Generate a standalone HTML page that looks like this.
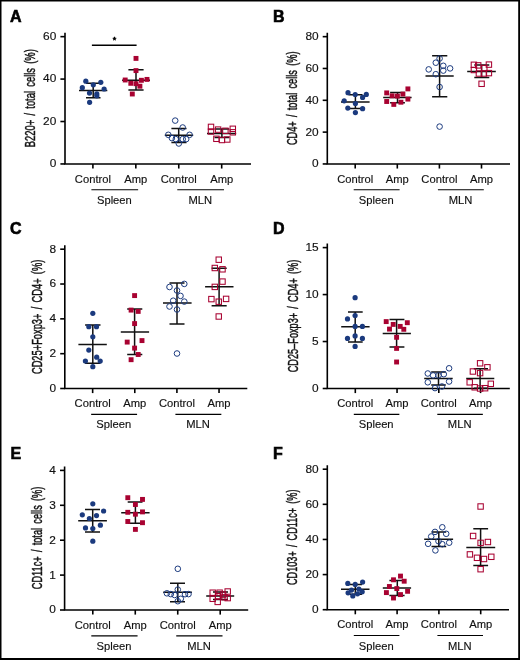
<!DOCTYPE html>
<html><head><meta charset="utf-8"><style>
html,body{margin:0;padding:0;background:#fff;}
body{width:520px;height:660px;overflow:hidden;position:relative;}
svg{position:absolute;left:0;top:0;will-change:transform;}
text{font-family:"Liberation Sans",sans-serif;fill:#111;}
.pl{font-weight:bold;font-size:16px;fill:#000;stroke:#000;stroke-width:0.6px;}
.tk{font-size:10.8px;text-anchor:end;stroke:#111;stroke-width:0.15px;}
.ct{font-size:11.2px;text-anchor:middle;stroke:#111;stroke-width:0.15px;}
.yl{font-size:13.9px;word-spacing:2.5px;stroke:#111;stroke-width:0.45px;text-anchor:middle;}
.st{font-size:9px;text-anchor:middle;stroke:#000;stroke-width:0.5px;fill:#000;}
.ax{stroke:#000;stroke-width:1.6;fill:none;}
.ul{stroke:#000;stroke-width:1.2;fill:none;}
.eb{stroke:#111;stroke-width:1.5;fill:none;}
</style></head><body>
<svg width="520" height="660" viewBox="0 0 520 660">
<path d="M0 0H520V660H0Z M1.5 1.5V657.9H518.2V1.5Z" fill="#000" fill-rule="evenodd"/>
<text x="10" y="21.8" class="pl">A</text>
<path d="M65 32.65V163.95H251" class="ax"/>
<path d="M60.4 163.95H65" class="ax"/>
<text transform="translate(56.3 167.35) scale(1.1 1.02)" class="tk">0</text>
<path d="M60.4 121.52H65" class="ax"/>
<text transform="translate(56.3 124.92) scale(1.1 1.02)" class="tk">20</text>
<path d="M60.4 79.08H65" class="ax"/>
<text transform="translate(56.3 82.48) scale(1.1 1.02)" class="tk">40</text>
<path d="M60.4 36.65H65" class="ax"/>
<text transform="translate(56.3 40.05) scale(1.1 1.02)" class="tk">60</text>
<path d="M92.9 163.95V168.55" class="ax"/>
<text transform="translate(92.9 182.5) scale(1 1.05)" class="ct">Control</text>
<path d="M135.83 163.95V168.55" class="ax"/>
<text transform="translate(135.83 182.5) scale(1 1.05)" class="ct">Amp</text>
<path d="M178.76 163.95V168.55" class="ax"/>
<text transform="translate(178.76 182.5) scale(1 1.05)" class="ct">Control</text>
<path d="M221.69 163.95V168.55" class="ax"/>
<text transform="translate(221.69 182.5) scale(1 1.05)" class="ct">Amp</text>
<path d="M91.4 189.75H138.13" class="ul"/>
<text transform="translate(114.37 203.8) scale(1 1.05)" class="ct">Spleen</text>
<path d="M177.26 189.75H223.99" class="ul"/>
<text transform="translate(200.22 203.8) scale(1 1.05)" class="ct">MLN</text>
<text transform="translate(34.9 98.2) rotate(-90)" class="yl" textLength="98" lengthAdjust="spacingAndGlyphs">B220+ / total cells (%)</text>
<path d="M79 90.5H107.3M86 83.2H100.5M86 97.8H100.5M93.2 83.2V97.8" class="eb"/>
<circle cx="85.8" cy="81.2" r="2.6" fill="#1b3a7e"/>
<circle cx="100.8" cy="82.3" r="2.6" fill="#1b3a7e"/>
<circle cx="93.3" cy="84.8" r="2.6" fill="#1b3a7e"/>
<circle cx="82.3" cy="87.7" r="2.6" fill="#1b3a7e"/>
<circle cx="104.1" cy="89" r="2.6" fill="#1b3a7e"/>
<circle cx="89.5" cy="93.1" r="2.6" fill="#1b3a7e"/>
<circle cx="96.8" cy="93.8" r="2.6" fill="#1b3a7e"/>
<circle cx="96.8" cy="95.8" r="2.6" fill="#1b3a7e"/>
<circle cx="89.6" cy="102.3" r="2.6" fill="#1b3a7e"/>
<path d="M122.1 80.2H150M128.4 69.8H143.6M128.4 89.9H143.6M136 69.8V89.9" class="eb"/>
<rect x="133.55" y="55.95" width="4.9" height="4.9" fill="#a80231"/>
<rect x="133.55" y="68.15" width="4.9" height="4.9" fill="#a80231"/>
<rect x="122.75" y="77.55" width="4.9" height="4.9" fill="#a80231"/>
<rect x="138.95" y="77.85" width="4.9" height="4.9" fill="#a80231"/>
<rect x="144.55" y="76.95" width="4.9" height="4.9" fill="#a80231"/>
<rect x="128.35" y="80.85" width="4.9" height="4.9" fill="#a80231"/>
<rect x="133.55" y="81.25" width="4.9" height="4.9" fill="#a80231"/>
<rect x="137.45" y="83.75" width="4.9" height="4.9" fill="#a80231"/>
<rect x="129.85" y="91.55" width="4.9" height="4.9" fill="#a80231"/>
<path d="M164.8 135.3H193.2M171.4 128.6H186.5M171.4 142.5H186.5M178.7 128.6V142.5" class="eb"/>
<circle cx="175.2" cy="120.6" r="2.8" fill="none" stroke="#1b3a7e" stroke-width="1.0"/>
<circle cx="182.7" cy="127.5" r="2.8" fill="none" stroke="#1b3a7e" stroke-width="1.0"/>
<circle cx="168.3" cy="134.8" r="2.8" fill="none" stroke="#1b3a7e" stroke-width="1.0"/>
<circle cx="189.6" cy="134.8" r="2.8" fill="none" stroke="#1b3a7e" stroke-width="1.0"/>
<circle cx="171.9" cy="138.1" r="2.8" fill="none" stroke="#1b3a7e" stroke-width="1.0"/>
<circle cx="175.8" cy="139.1" r="2.8" fill="none" stroke="#1b3a7e" stroke-width="1.0"/>
<circle cx="182.7" cy="139.1" r="2.8" fill="none" stroke="#1b3a7e" stroke-width="1.0"/>
<circle cx="186.2" cy="139.1" r="2.8" fill="none" stroke="#1b3a7e" stroke-width="1.0"/>
<circle cx="178.8" cy="143.5" r="2.8" fill="none" stroke="#1b3a7e" stroke-width="1.0"/>
<path d="M207 133.6H236.2M214.5 129H229.3M214.5 137.6H229.3M221.9 129V137.6" class="eb"/>
<rect x="208.3" y="124.2" width="5.4" height="5.4" fill="none" stroke="#a80231" stroke-width="1.05"/>
<rect x="208.3" y="128.8" width="5.4" height="5.4" fill="none" stroke="#a80231" stroke-width="1.05"/>
<rect x="215.4" y="126.9" width="5.4" height="5.4" fill="none" stroke="#a80231" stroke-width="1.05"/>
<rect x="222.7" y="128.1" width="5.4" height="5.4" fill="none" stroke="#a80231" stroke-width="1.05"/>
<rect x="230.1" y="126.1" width="5.4" height="5.4" fill="none" stroke="#a80231" stroke-width="1.05"/>
<rect x="230.1" y="129.6" width="5.4" height="5.4" fill="none" stroke="#a80231" stroke-width="1.05"/>
<rect x="213.7" y="136.1" width="5.4" height="5.4" fill="none" stroke="#a80231" stroke-width="1.05"/>
<rect x="219.2" y="137.3" width="5.4" height="5.4" fill="none" stroke="#a80231" stroke-width="1.05"/>
<rect x="224.6" y="136.8" width="5.4" height="5.4" fill="none" stroke="#a80231" stroke-width="1.05"/>
<path d="M91.9 45.25H136.6" class="ax"/>
<text x="114.4" y="42.85" class="st">*</text>
<text x="273" y="21.7" class="pl">B</text>
<path d="M327.3 32.65V163.95H510" class="ax"/>
<path d="M322.7 163.95H327.3" class="ax"/>
<text transform="translate(318.6 167.35) scale(1.1 1.02)" class="tk">0</text>
<path d="M322.7 132.12H327.3" class="ax"/>
<text transform="translate(318.6 135.53) scale(1.1 1.02)" class="tk">20</text>
<path d="M322.7 100.3H327.3" class="ax"/>
<text transform="translate(318.6 103.7) scale(1.1 1.02)" class="tk">40</text>
<path d="M322.7 68.47H327.3" class="ax"/>
<text transform="translate(318.6 71.88) scale(1.1 1.02)" class="tk">60</text>
<path d="M322.7 36.65H327.3" class="ax"/>
<text transform="translate(318.6 40.05) scale(1.1 1.02)" class="tk">80</text>
<path d="M355.2 163.95V168.55" class="ax"/>
<text transform="translate(355.2 182.5) scale(1 1.05)" class="ct">Control</text>
<path d="M397.3 163.95V168.55" class="ax"/>
<text transform="translate(397.3 182.5) scale(1 1.05)" class="ct">Amp</text>
<path d="M439.4 163.95V168.55" class="ax"/>
<text transform="translate(439.4 182.5) scale(1 1.05)" class="ct">Control</text>
<path d="M481.5 163.95V168.55" class="ax"/>
<text transform="translate(481.5 182.5) scale(1 1.05)" class="ct">Amp</text>
<path d="M353.7 189.75H399.6" class="ul"/>
<text transform="translate(376.25 203.8) scale(1 1.05)" class="ct">Spleen</text>
<path d="M437.9 189.75H483.8" class="ul"/>
<text transform="translate(460.45 203.8) scale(1 1.05)" class="ct">MLN</text>
<text transform="translate(297.4 98.3) rotate(-90)" class="yl" textLength="93.6" lengthAdjust="spacingAndGlyphs">CD4+ / total cells (%)</text>
<path d="M341 102H369.6M348.5 94.7H362.5M348.5 108.5H362.5M355.4 94.7V108.5" class="eb"/>
<circle cx="348" cy="92.7" r="2.6" fill="#1b3a7e"/>
<circle cx="355.2" cy="94.5" r="2.6" fill="#1b3a7e"/>
<circle cx="366.3" cy="94.4" r="2.6" fill="#1b3a7e"/>
<circle cx="362.6" cy="97.4" r="2.6" fill="#1b3a7e"/>
<circle cx="344.2" cy="100.8" r="2.6" fill="#1b3a7e"/>
<circle cx="355.4" cy="103.5" r="2.6" fill="#1b3a7e"/>
<circle cx="347.8" cy="108.1" r="2.6" fill="#1b3a7e"/>
<circle cx="362.6" cy="108.7" r="2.6" fill="#1b3a7e"/>
<circle cx="355.4" cy="112.6" r="2.6" fill="#1b3a7e"/>
<path d="M383.2 97.6H411.6M390.1 92.6H404.9M390.1 102.7H404.9M397.5 92.6V102.7" class="eb"/>
<rect x="405.45" y="86.45" width="4.9" height="4.9" fill="#a80231"/>
<rect x="384.25" y="90.45" width="4.9" height="4.9" fill="#a80231"/>
<rect x="400.45" y="91.65" width="4.9" height="4.9" fill="#a80231"/>
<rect x="389.65" y="93.35" width="4.9" height="4.9" fill="#a80231"/>
<rect x="394.95" y="93.65" width="4.9" height="4.9" fill="#a80231"/>
<rect x="405.45" y="96.65" width="4.9" height="4.9" fill="#a80231"/>
<rect x="384.25" y="99.05" width="4.9" height="4.9" fill="#a80231"/>
<rect x="398.45" y="99.75" width="4.9" height="4.9" fill="#a80231"/>
<rect x="391.35" y="101.95" width="4.9" height="4.9" fill="#a80231"/>
<path d="M425.5 76.1H453.7M432.1 55.8H447.3M432.1 96.7H447.3M439.6 55.8V96.7" class="eb"/>
<circle cx="439.6" cy="58.5" r="2.8" fill="none" stroke="#1b3a7e" stroke-width="1.0"/>
<circle cx="435.8" cy="62.7" r="2.8" fill="none" stroke="#1b3a7e" stroke-width="1.0"/>
<circle cx="443.3" cy="65.8" r="2.8" fill="none" stroke="#1b3a7e" stroke-width="1.0"/>
<circle cx="428.7" cy="69.4" r="2.8" fill="none" stroke="#1b3a7e" stroke-width="1.0"/>
<circle cx="450.1" cy="68.4" r="2.8" fill="none" stroke="#1b3a7e" stroke-width="1.0"/>
<circle cx="443.3" cy="70.6" r="2.8" fill="none" stroke="#1b3a7e" stroke-width="1.0"/>
<circle cx="435.8" cy="74.2" r="2.8" fill="none" stroke="#1b3a7e" stroke-width="1.0"/>
<circle cx="439.6" cy="87" r="2.8" fill="none" stroke="#1b3a7e" stroke-width="1.0"/>
<circle cx="439.6" cy="126.6" r="2.8" fill="none" stroke="#1b3a7e" stroke-width="1.0"/>
<path d="M467.2 71.5H495.8M474.3 65.1H489.3M474.3 77.6H489.3M481.6 65.1V77.6" class="eb"/>
<rect x="471.2" y="62.1" width="5.4" height="5.4" fill="none" stroke="#a80231" stroke-width="1.05"/>
<rect x="475.5" y="62.7" width="5.4" height="5.4" fill="none" stroke="#a80231" stroke-width="1.05"/>
<rect x="486.2" y="61.9" width="5.4" height="5.4" fill="none" stroke="#a80231" stroke-width="1.05"/>
<rect x="471.2" y="67.3" width="5.4" height="5.4" fill="none" stroke="#a80231" stroke-width="1.05"/>
<rect x="481.6" y="65.4" width="5.4" height="5.4" fill="none" stroke="#a80231" stroke-width="1.05"/>
<rect x="476.2" y="70.8" width="5.4" height="5.4" fill="none" stroke="#a80231" stroke-width="1.05"/>
<rect x="481.2" y="70.8" width="5.4" height="5.4" fill="none" stroke="#a80231" stroke-width="1.05"/>
<rect x="486.2" y="70.4" width="5.4" height="5.4" fill="none" stroke="#a80231" stroke-width="1.05"/>
<rect x="478.9" y="81.1" width="5.4" height="5.4" fill="none" stroke="#a80231" stroke-width="1.05"/>
<text x="10" y="234.3" class="pl">C</text>
<path d="M64.8 245.2V388.5H247.3" class="ax"/>
<path d="M60.2 388.5H64.8" class="ax"/>
<text transform="translate(56.1 391.9) scale(1.1 1.02)" class="tk">0</text>
<path d="M60.2 353.68H64.8" class="ax"/>
<text transform="translate(56.1 357.07) scale(1.1 1.02)" class="tk">2</text>
<path d="M60.2 318.85H64.8" class="ax"/>
<text transform="translate(56.1 322.25) scale(1.1 1.02)" class="tk">4</text>
<path d="M60.2 284.02H64.8" class="ax"/>
<text transform="translate(56.1 287.42) scale(1.1 1.02)" class="tk">6</text>
<path d="M60.2 249.2H64.8" class="ax"/>
<text transform="translate(56.1 252.6) scale(1.1 1.02)" class="tk">8</text>
<path d="M92.65 388.5V393.1" class="ax"/>
<text transform="translate(92.65 407.05) scale(1 1.05)" class="ct">Control</text>
<path d="M134.78 388.5V393.1" class="ax"/>
<text transform="translate(134.78 407.05) scale(1 1.05)" class="ct">Amp</text>
<path d="M176.91 388.5V393.1" class="ax"/>
<text transform="translate(176.91 407.05) scale(1 1.05)" class="ct">Control</text>
<path d="M219.04 388.5V393.1" class="ax"/>
<text transform="translate(219.04 407.05) scale(1 1.05)" class="ct">Amp</text>
<path d="M91.15 414.3H137.08" class="ul"/>
<text transform="translate(113.72 428.35) scale(1 1.05)" class="ct">Spleen</text>
<path d="M175.41 414.3H221.34" class="ul"/>
<text transform="translate(197.98 428.35) scale(1 1.05)" class="ct">MLN</text>
<text transform="translate(41.8 316.9) rotate(-90)" class="yl" textLength="114.4" lengthAdjust="spacingAndGlyphs">CD25+Foxp3+ / CD4+ (%)</text>
<path d="M78.4 344.4H106.8M85.1 325.1H100.5M85.1 363.3H100.5M92.8 325.1V363.3" class="eb"/>
<circle cx="92.8" cy="313.3" r="2.6" fill="#1b3a7e"/>
<circle cx="88.8" cy="326.7" r="2.6" fill="#1b3a7e"/>
<circle cx="96.5" cy="326.7" r="2.6" fill="#1b3a7e"/>
<circle cx="92.8" cy="336.8" r="2.6" fill="#1b3a7e"/>
<circle cx="88.8" cy="350.1" r="2.6" fill="#1b3a7e"/>
<circle cx="96.7" cy="357.2" r="2.6" fill="#1b3a7e"/>
<circle cx="85.4" cy="361" r="2.6" fill="#1b3a7e"/>
<circle cx="100.2" cy="361" r="2.6" fill="#1b3a7e"/>
<circle cx="92.8" cy="366.7" r="2.6" fill="#1b3a7e"/>
<path d="M120.8 332H149.1M127.2 309.1H142.3M127.2 354.5H142.3M134.6 309.1V354.5" class="eb"/>
<rect x="132.15" y="293.15" width="4.9" height="4.9" fill="#a80231"/>
<rect x="128.65" y="307.65" width="4.9" height="4.9" fill="#a80231"/>
<rect x="135.75" y="308.95" width="4.9" height="4.9" fill="#a80231"/>
<rect x="132.15" y="321.15" width="4.9" height="4.9" fill="#a80231"/>
<rect x="124.75" y="339.65" width="4.9" height="4.9" fill="#a80231"/>
<rect x="139.55" y="338.15" width="4.9" height="4.9" fill="#a80231"/>
<rect x="132.15" y="345.65" width="4.9" height="4.9" fill="#a80231"/>
<rect x="135.75" y="352.05" width="4.9" height="4.9" fill="#a80231"/>
<rect x="128.65" y="357.25" width="4.9" height="4.9" fill="#a80231"/>
<path d="M163 303.1H191.6M169.5 283H184.5M169.5 324.1H184.5M177 283V324.1" class="eb"/>
<circle cx="184.3" cy="283.9" r="2.8" fill="none" stroke="#1b3a7e" stroke-width="1.0"/>
<circle cx="169.5" cy="287" r="2.8" fill="none" stroke="#1b3a7e" stroke-width="1.0"/>
<circle cx="177" cy="290.5" r="2.8" fill="none" stroke="#1b3a7e" stroke-width="1.0"/>
<circle cx="180.5" cy="295.9" r="2.8" fill="none" stroke="#1b3a7e" stroke-width="1.0"/>
<circle cx="173.2" cy="300.7" r="2.8" fill="none" stroke="#1b3a7e" stroke-width="1.0"/>
<circle cx="184.3" cy="301.6" r="2.8" fill="none" stroke="#1b3a7e" stroke-width="1.0"/>
<circle cx="169.5" cy="306.5" r="2.8" fill="none" stroke="#1b3a7e" stroke-width="1.0"/>
<circle cx="177" cy="309.5" r="2.8" fill="none" stroke="#1b3a7e" stroke-width="1.0"/>
<circle cx="177" cy="353.5" r="2.8" fill="none" stroke="#1b3a7e" stroke-width="1.0"/>
<path d="M205.1 286.7H233.5M211.6 268.2H226.7M211.6 305.7H226.7M219.1 268.2V305.7" class="eb"/>
<rect x="216.05" y="257" width="5.4" height="5.4" fill="none" stroke="#a80231" stroke-width="1.05"/>
<rect x="212.1" y="265.3" width="5.4" height="5.4" fill="none" stroke="#a80231" stroke-width="1.05"/>
<rect x="219.8" y="266.6" width="5.4" height="5.4" fill="none" stroke="#a80231" stroke-width="1.05"/>
<rect x="219.8" y="278.9" width="5.4" height="5.4" fill="none" stroke="#a80231" stroke-width="1.05"/>
<rect x="212.1" y="284.2" width="5.4" height="5.4" fill="none" stroke="#a80231" stroke-width="1.05"/>
<rect x="208.7" y="296.4" width="5.4" height="5.4" fill="none" stroke="#a80231" stroke-width="1.05"/>
<rect x="223.4" y="296.2" width="5.4" height="5.4" fill="none" stroke="#a80231" stroke-width="1.05"/>
<rect x="216.05" y="299" width="5.4" height="5.4" fill="none" stroke="#a80231" stroke-width="1.05"/>
<rect x="216.05" y="313.8" width="5.4" height="5.4" fill="none" stroke="#a80231" stroke-width="1.05"/>
<text x="273" y="234" class="pl">D</text>
<path d="M327.3 243.6V388.5H509.8" class="ax"/>
<path d="M322.7 388.5H327.3" class="ax"/>
<text transform="translate(318.6 391.9) scale(1.1 1.02)" class="tk">0</text>
<path d="M322.7 341.53H327.3" class="ax"/>
<text transform="translate(318.6 344.93) scale(1.1 1.02)" class="tk">5</text>
<path d="M322.7 294.57H327.3" class="ax"/>
<text transform="translate(318.6 297.97) scale(1.1 1.02)" class="tk">10</text>
<path d="M322.7 247.6H327.3" class="ax"/>
<text transform="translate(318.6 251) scale(1.1 1.02)" class="tk">15</text>
<path d="M355.3 388.5V393.1" class="ax"/>
<text transform="translate(355.3 407.05) scale(1 1.05)" class="ct">Control</text>
<path d="M397.05 388.5V393.1" class="ax"/>
<text transform="translate(397.05 407.05) scale(1 1.05)" class="ct">Amp</text>
<path d="M438.8 388.5V393.1" class="ax"/>
<text transform="translate(438.8 407.05) scale(1 1.05)" class="ct">Control</text>
<path d="M480.55 388.5V393.1" class="ax"/>
<text transform="translate(480.55 407.05) scale(1 1.05)" class="ct">Amp</text>
<path d="M353.8 414.3H399.35" class="ul"/>
<text transform="translate(376.18 428.35) scale(1 1.05)" class="ct">Spleen</text>
<path d="M437.3 414.3H482.85" class="ul"/>
<text transform="translate(459.68 428.35) scale(1 1.05)" class="ct">MLN</text>
<text transform="translate(297.6 316) rotate(-90)" class="yl" textLength="112.5" lengthAdjust="spacingAndGlyphs">CD25–Foxp3+ / CD4+ (%)</text>
<path d="M341.2 326.8H369.6M348 312H362.7M348 342H362.7M355.2 312V342" class="eb"/>
<circle cx="355.1" cy="297.7" r="2.6" fill="#1b3a7e"/>
<circle cx="355.1" cy="315.5" r="2.6" fill="#1b3a7e"/>
<circle cx="347.5" cy="318.9" r="2.6" fill="#1b3a7e"/>
<circle cx="355.1" cy="326.4" r="2.6" fill="#1b3a7e"/>
<circle cx="362.4" cy="326.4" r="2.6" fill="#1b3a7e"/>
<circle cx="355.1" cy="335.9" r="2.6" fill="#1b3a7e"/>
<circle cx="347.5" cy="338.4" r="2.6" fill="#1b3a7e"/>
<circle cx="362.4" cy="338.4" r="2.6" fill="#1b3a7e"/>
<circle cx="355.1" cy="346.4" r="2.6" fill="#1b3a7e"/>
<path d="M382.7 333.5H410.9M389.5 319.5H404.4M389.5 347.1H404.4M396.6 319.5V347.1" class="eb"/>
<rect x="383.75" y="319.15" width="4.9" height="4.9" fill="#a80231"/>
<rect x="404.85" y="320.25" width="4.9" height="4.9" fill="#a80231"/>
<rect x="390.75" y="321.95" width="4.9" height="4.9" fill="#a80231"/>
<rect x="397.75" y="323.95" width="4.9" height="4.9" fill="#a80231"/>
<rect x="387.05" y="326.65" width="4.9" height="4.9" fill="#a80231"/>
<rect x="401.35" y="326.85" width="4.9" height="4.9" fill="#a80231"/>
<rect x="394.15" y="334.85" width="4.9" height="4.9" fill="#a80231"/>
<rect x="394.15" y="345.95" width="4.9" height="4.9" fill="#a80231"/>
<rect x="394.15" y="359.55" width="4.9" height="4.9" fill="#a80231"/>
<path d="M424.2 378.5H452.7M431.2 371.9H445.8M431.2 385H445.8M438.5 371.9V385" class="eb"/>
<circle cx="449.1" cy="368.3" r="2.8" fill="none" stroke="#1b3a7e" stroke-width="1.0"/>
<circle cx="427.8" cy="373.5" r="2.8" fill="none" stroke="#1b3a7e" stroke-width="1.0"/>
<circle cx="433.1" cy="375.4" r="2.8" fill="none" stroke="#1b3a7e" stroke-width="1.0"/>
<circle cx="438.5" cy="375.4" r="2.8" fill="none" stroke="#1b3a7e" stroke-width="1.0"/>
<circle cx="443.8" cy="374.2" r="2.8" fill="none" stroke="#1b3a7e" stroke-width="1.0"/>
<circle cx="427.8" cy="382.3" r="2.8" fill="none" stroke="#1b3a7e" stroke-width="1.0"/>
<circle cx="449.1" cy="381.5" r="2.8" fill="none" stroke="#1b3a7e" stroke-width="1.0"/>
<circle cx="435" cy="388.1" r="2.8" fill="none" stroke="#1b3a7e" stroke-width="1.0"/>
<circle cx="441.9" cy="386.5" r="2.8" fill="none" stroke="#1b3a7e" stroke-width="1.0"/>
<path d="M466.2 378.5H494.3M473.8 368.7H488M473.8 388.3H488M480.1 368.7V388.3" class="eb"/>
<rect x="477.4" y="360.6" width="5.4" height="5.4" fill="none" stroke="#a80231" stroke-width="1.05"/>
<rect x="484.7" y="364.6" width="5.4" height="5.4" fill="none" stroke="#a80231" stroke-width="1.05"/>
<rect x="470.2" y="368.8" width="5.4" height="5.4" fill="none" stroke="#a80231" stroke-width="1.05"/>
<rect x="477.4" y="370.4" width="5.4" height="5.4" fill="none" stroke="#a80231" stroke-width="1.05"/>
<rect x="467" y="379.6" width="5.4" height="5.4" fill="none" stroke="#a80231" stroke-width="1.05"/>
<rect x="488.1" y="381.1" width="5.4" height="5.4" fill="none" stroke="#a80231" stroke-width="1.05"/>
<rect x="472" y="384.6" width="5.4" height="5.4" fill="none" stroke="#a80231" stroke-width="1.05"/>
<rect x="477.4" y="385.8" width="5.4" height="5.4" fill="none" stroke="#a80231" stroke-width="1.05"/>
<rect x="482.4" y="385.5" width="5.4" height="5.4" fill="none" stroke="#a80231" stroke-width="1.05"/>
<text x="10.6" y="458.8" class="pl">E</text>
<path d="M64.6 466.4V610H248.2" class="ax"/>
<path d="M60 610H64.6" class="ax"/>
<text transform="translate(55.9 613.4) scale(1.1 1.02)" class="tk">0</text>
<path d="M60 575.1H64.6" class="ax"/>
<text transform="translate(55.9 578.5) scale(1.1 1.02)" class="tk">1</text>
<path d="M60 540.2H64.6" class="ax"/>
<text transform="translate(55.9 543.6) scale(1.1 1.02)" class="tk">2</text>
<path d="M60 505.3H64.6" class="ax"/>
<text transform="translate(55.9 508.7) scale(1.1 1.02)" class="tk">3</text>
<path d="M60 470.4H64.6" class="ax"/>
<text transform="translate(55.9 473.8) scale(1.1 1.02)" class="tk">4</text>
<path d="M92.8 610V614.6" class="ax"/>
<text transform="translate(92.8 628.55) scale(1 1.05)" class="ct">Control</text>
<path d="M135.27 610V614.6" class="ax"/>
<text transform="translate(135.27 628.55) scale(1 1.05)" class="ct">Amp</text>
<path d="M177.74 610V614.6" class="ax"/>
<text transform="translate(177.74 628.55) scale(1 1.05)" class="ct">Control</text>
<path d="M220.21 610V614.6" class="ax"/>
<text transform="translate(220.21 628.55) scale(1 1.05)" class="ct">Amp</text>
<path d="M91.3 635.8H137.57" class="ul"/>
<text transform="translate(114.03 649.85) scale(1 1.05)" class="ct">Spleen</text>
<path d="M176.24 635.8H222.51" class="ul"/>
<text transform="translate(198.97 649.85) scale(1 1.05)" class="ct">MLN</text>
<text transform="translate(41.8 537.95) rotate(-90)" class="yl" textLength="102.5" lengthAdjust="spacingAndGlyphs">CD11c+ / total cells (%)</text>
<path d="M78.2 520.8H106.9M85 509.4H100M85 531.9H100M92.7 509.4V531.9" class="eb"/>
<circle cx="92.8" cy="503.8" r="2.6" fill="#1b3a7e"/>
<circle cx="103.6" cy="511" r="2.6" fill="#1b3a7e"/>
<circle cx="82.3" cy="514.8" r="2.6" fill="#1b3a7e"/>
<circle cx="96.5" cy="515.6" r="2.6" fill="#1b3a7e"/>
<circle cx="89.4" cy="518.5" r="2.6" fill="#1b3a7e"/>
<circle cx="100.4" cy="525.2" r="2.6" fill="#1b3a7e"/>
<circle cx="85.5" cy="527.9" r="2.6" fill="#1b3a7e"/>
<circle cx="92.8" cy="528.5" r="2.6" fill="#1b3a7e"/>
<circle cx="92.8" cy="541.2" r="2.6" fill="#1b3a7e"/>
<path d="M121.2 512.7H149.6M127.7 501.9H142.5M127.7 523.2H142.5M135.4 501.9V523.2" class="eb"/>
<rect x="125.35" y="495.25" width="4.9" height="4.9" fill="#a80231"/>
<rect x="140.05" y="496.95" width="4.9" height="4.9" fill="#a80231"/>
<rect x="132.95" y="502.05" width="4.9" height="4.9" fill="#a80231"/>
<rect x="125.35" y="509.85" width="4.9" height="4.9" fill="#a80231"/>
<rect x="140.05" y="509.45" width="4.9" height="4.9" fill="#a80231"/>
<rect x="132.95" y="511.75" width="4.9" height="4.9" fill="#a80231"/>
<rect x="125.35" y="519.05" width="4.9" height="4.9" fill="#a80231"/>
<rect x="140.05" y="520.25" width="4.9" height="4.9" fill="#a80231"/>
<rect x="132.95" y="526.95" width="4.9" height="4.9" fill="#a80231"/>
<path d="M163.2 592.3H191.9M170 583.2H185M170 601.8H185M177.8 583.2V601.8" class="eb"/>
<circle cx="177.8" cy="568.8" r="2.8" fill="none" stroke="#1b3a7e" stroke-width="1.0"/>
<circle cx="177.8" cy="589.6" r="2.8" fill="none" stroke="#1b3a7e" stroke-width="1.0"/>
<circle cx="166.9" cy="593.3" r="2.8" fill="none" stroke="#1b3a7e" stroke-width="1.0"/>
<circle cx="170.8" cy="594.1" r="2.8" fill="none" stroke="#1b3a7e" stroke-width="1.0"/>
<circle cx="174.6" cy="595" r="2.8" fill="none" stroke="#1b3a7e" stroke-width="1.0"/>
<circle cx="185" cy="594.2" r="2.8" fill="none" stroke="#1b3a7e" stroke-width="1.0"/>
<circle cx="188.5" cy="594.1" r="2.8" fill="none" stroke="#1b3a7e" stroke-width="1.0"/>
<circle cx="180.8" cy="598.8" r="2.8" fill="none" stroke="#1b3a7e" stroke-width="1.0"/>
<circle cx="177.8" cy="601.2" r="2.8" fill="none" stroke="#1b3a7e" stroke-width="1.0"/>
<path d="M206.2 595.9H234.2M213 592H228M213 599.5H228M220.5 592V599.5" class="eb"/>
<rect x="210" y="590" width="5.4" height="5.4" fill="none" stroke="#a80231" stroke-width="1.05"/>
<rect x="216.9" y="590" width="5.4" height="5.4" fill="none" stroke="#a80231" stroke-width="1.05"/>
<rect x="225" y="588.8" width="5.4" height="5.4" fill="none" stroke="#a80231" stroke-width="1.05"/>
<rect x="210" y="596.1" width="5.4" height="5.4" fill="none" stroke="#a80231" stroke-width="1.05"/>
<rect x="215" y="599.2" width="5.4" height="5.4" fill="none" stroke="#a80231" stroke-width="1.05"/>
<rect x="220.4" y="591.9" width="5.4" height="5.4" fill="none" stroke="#a80231" stroke-width="1.05"/>
<rect x="221.9" y="594.6" width="5.4" height="5.4" fill="none" stroke="#a80231" stroke-width="1.05"/>
<rect x="225" y="595.4" width="5.4" height="5.4" fill="none" stroke="#a80231" stroke-width="1.05"/>
<rect x="215.4" y="593.5" width="5.4" height="5.4" fill="none" stroke="#a80231" stroke-width="1.05"/>
<text x="273" y="458.8" class="pl">F</text>
<path d="M327.3 465.2V609.7H509" class="ax"/>
<path d="M322.7 609.7H327.3" class="ax"/>
<text transform="translate(318.6 613.1) scale(1.1 1.02)" class="tk">0</text>
<path d="M322.7 574.58H327.3" class="ax"/>
<text transform="translate(318.6 577.98) scale(1.1 1.02)" class="tk">20</text>
<path d="M322.7 539.45H327.3" class="ax"/>
<text transform="translate(318.6 542.85) scale(1.1 1.02)" class="tk">40</text>
<path d="M322.7 504.32H327.3" class="ax"/>
<text transform="translate(318.6 507.72) scale(1.1 1.02)" class="tk">60</text>
<path d="M322.7 469.2H327.3" class="ax"/>
<text transform="translate(318.6 472.6) scale(1.1 1.02)" class="tk">80</text>
<path d="M355.3 609.7V614.3" class="ax"/>
<text transform="translate(355.3 628.25) scale(1 1.05)" class="ct">Control</text>
<path d="M397.1 609.7V614.3" class="ax"/>
<text transform="translate(397.1 628.25) scale(1 1.05)" class="ct">Amp</text>
<path d="M438.9 609.7V614.3" class="ax"/>
<text transform="translate(438.9 628.25) scale(1 1.05)" class="ct">Control</text>
<path d="M480.7 609.7V614.3" class="ax"/>
<text transform="translate(480.7 628.25) scale(1 1.05)" class="ct">Amp</text>
<path d="M353.8 635.5H399.4" class="ul"/>
<text transform="translate(376.2 649.55) scale(1 1.05)" class="ct">Spleen</text>
<path d="M437.4 635.5H483" class="ul"/>
<text transform="translate(459.8 649.55) scale(1 1.05)" class="ct">MLN</text>
<text transform="translate(297.4 537.25) rotate(-90)" class="yl" textLength="95.5" lengthAdjust="spacingAndGlyphs">CD103+ / CD11c+ (%)</text>
<path d="M341 589.3H369.5M350 584.4H362M350 594.2H362M355.3 584.4V594.2" class="eb"/>
<circle cx="347.8" cy="583.4" r="2.6" fill="#1b3a7e"/>
<circle cx="355.2" cy="584.4" r="2.6" fill="#1b3a7e"/>
<circle cx="362.6" cy="582.1" r="2.6" fill="#1b3a7e"/>
<circle cx="351.5" cy="590.1" r="2.6" fill="#1b3a7e"/>
<circle cx="358.9" cy="589.1" r="2.6" fill="#1b3a7e"/>
<circle cx="348.1" cy="592.8" r="2.6" fill="#1b3a7e"/>
<circle cx="362.2" cy="591.8" r="2.6" fill="#1b3a7e"/>
<circle cx="352.8" cy="595.9" r="2.6" fill="#1b3a7e"/>
<circle cx="357.5" cy="593.8" r="2.6" fill="#1b3a7e"/>
<path d="M382.8 587.9H411.1M389.4 580.5H404.6M389.4 595.4H404.6M397.3 580.5V595.4" class="eb"/>
<rect x="398.05" y="573.65" width="4.9" height="4.9" fill="#a80231"/>
<rect x="391.05" y="577.35" width="4.9" height="4.9" fill="#a80231"/>
<rect x="401.75" y="578.75" width="4.9" height="4.9" fill="#a80231"/>
<rect x="386.95" y="584.05" width="4.9" height="4.9" fill="#a80231"/>
<rect x="394.35" y="586.15" width="4.9" height="4.9" fill="#a80231"/>
<rect x="383.95" y="590.15" width="4.9" height="4.9" fill="#a80231"/>
<rect x="405.15" y="588.85" width="4.9" height="4.9" fill="#a80231"/>
<rect x="398.05" y="592.15" width="4.9" height="4.9" fill="#a80231"/>
<rect x="391.05" y="595.55" width="4.9" height="4.9" fill="#a80231"/>
<path d="M424.2 539.2H453.1M431.5 531.9H446.2M431.5 546.5H446.2M438.8 531.9V546.5" class="eb"/>
<circle cx="442.3" cy="527.3" r="2.8" fill="none" stroke="#1b3a7e" stroke-width="1.0"/>
<circle cx="435" cy="531.9" r="2.8" fill="none" stroke="#1b3a7e" stroke-width="1.0"/>
<circle cx="446.2" cy="533.8" r="2.8" fill="none" stroke="#1b3a7e" stroke-width="1.0"/>
<circle cx="431.2" cy="536.5" r="2.8" fill="none" stroke="#1b3a7e" stroke-width="1.0"/>
<circle cx="438.5" cy="541.2" r="2.8" fill="none" stroke="#1b3a7e" stroke-width="1.0"/>
<circle cx="428.1" cy="543.8" r="2.8" fill="none" stroke="#1b3a7e" stroke-width="1.0"/>
<circle cx="442.3" cy="544.2" r="2.8" fill="none" stroke="#1b3a7e" stroke-width="1.0"/>
<circle cx="449.2" cy="542.7" r="2.8" fill="none" stroke="#1b3a7e" stroke-width="1.0"/>
<circle cx="435.4" cy="550.4" r="2.8" fill="none" stroke="#1b3a7e" stroke-width="1.0"/>
<path d="M466.3 547.4H495.2M473.3 528.7H488.1M473.3 565.5H488.1M480.6 528.7V565.5" class="eb"/>
<rect x="477.9" y="503.8" width="5.4" height="5.4" fill="none" stroke="#a80231" stroke-width="1.05"/>
<rect x="470.4" y="533.3" width="5.4" height="5.4" fill="none" stroke="#a80231" stroke-width="1.05"/>
<rect x="477.9" y="540.2" width="5.4" height="5.4" fill="none" stroke="#a80231" stroke-width="1.05"/>
<rect x="485.2" y="539.3" width="5.4" height="5.4" fill="none" stroke="#a80231" stroke-width="1.05"/>
<rect x="467.2" y="551.7" width="5.4" height="5.4" fill="none" stroke="#a80231" stroke-width="1.05"/>
<rect x="474.3" y="555.1" width="5.4" height="5.4" fill="none" stroke="#a80231" stroke-width="1.05"/>
<rect x="481.3" y="556.3" width="5.4" height="5.4" fill="none" stroke="#a80231" stroke-width="1.05"/>
<rect x="488.6" y="554.1" width="5.4" height="5.4" fill="none" stroke="#a80231" stroke-width="1.05"/>
<rect x="477.9" y="566.5" width="5.4" height="5.4" fill="none" stroke="#a80231" stroke-width="1.05"/>
</svg>
</body></html>
